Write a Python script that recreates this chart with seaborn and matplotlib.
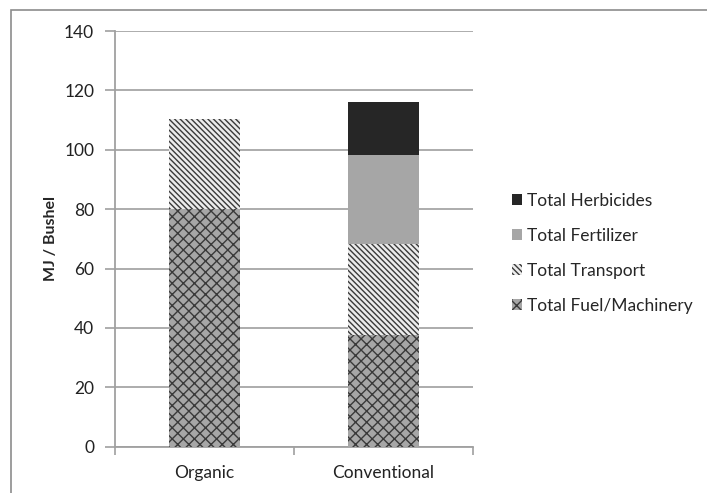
import matplotlib
matplotlib.use("Agg")
import matplotlib.pyplot as plt
import matplotlib.patches as mpatches
import seaborn as sns
import pandas as pd
import numpy as np

categories = ["Organic", "Conventional"]
fuel_machinery = [80.0, 37.5]
transport = [30.5, 30.7]
fertilizer = [0.0, 29.9]
herbicides = [0.0, 18.0]
y_ticks = [0, 20, 40, 60, 80, 100, 120, 140]

sns.set_theme(style="white")
plt.rcParams['font.family'] = ['Lato', 'DejaVu Sans']
plt.rcParams['hatch.linewidth'] = 1.0

df = pd.DataFrame({
    "category": categories,
    "Total Fuel/Machinery": fuel_machinery,
    "Total Transport": transport,
    "Total Fertilizer": fertilizer,
    "Total Herbicides": herbicides,
})

layers = [
    ("Total Fuel/Machinery", "#a6a6a6", "#3a3a3a", "xxx"),
    ("Total Transport", "#ececec", "#3a3a3a", "\\" * 6),
    ("Total Fertilizer", "#a6a6a6", "#a6a6a6", None),
    ("Total Herbicides", "#262626", "#262626", None),
]

fig = plt.figure(figsize=(7.07, 4.93), dpi=100)
ax = fig.add_axes([115/707, 0.0939, 357.7/707, 0.8432])

bottom = np.zeros(len(categories))
handles = []
for name, fc, ec, hatch in layers:
    before = len(ax.patches)
    sns.barplot(data=df, x="category", y=name, ax=ax, color=fc, width=0.4,
                bottom=bottom, saturation=1, zorder=3)
    for p in ax.patches[before:]:
        p.set_facecolor(fc)
        p.set_edgecolor(ec)
        p.set_linewidth(0)
        if hatch:
            p.set_hatch(hatch)
    bottom = bottom + np.array(df[name])
    handles.append(mpatches.Patch(facecolor=fc, edgecolor=ec, hatch=hatch,
                                  linewidth=0, label=name))

ax.set_ylim(0, 140)
ax.set_xlim(-0.5, 1.5)
ax.set_yticks(y_ticks)
ax.set_yticklabels([str(v) for v in y_ticks], fontsize=12.5, color="#222222")
ax.yaxis.grid(True, color="#a6a6a6", linewidth=1.3, zorder=0)
ax.set_axisbelow(True)
ax.set_xlabel("")
ax.set_ylabel("MJ / Bushel", fontsize=11.5, fontweight="bold", labelpad=4)

ax.set_xticks([0, 1])
ax.set_xticklabels(categories, fontsize=12.5, color="#222222")
ax.set_xticks([-0.5, 0.5, 1.5], minor=True)
ax.tick_params(axis="x", which="major", length=0, pad=13)
ax.tick_params(axis="x", which="minor", length=6, width=1.2, color="#a0a0a0", direction="out", bottom=True)
ax.tick_params(axis="y", which="major", length=7, width=1.2, color="#a0a0a0", direction="out", left=True, pad=8)

for s in ["top", "right"]:
    ax.spines[s].set_visible(False)
for s in ["left", "bottom"]:
    ax.spines[s].set_color("#a0a0a0")
    ax.spines[s].set_linewidth(1.3)

leg = ax.legend(handles=handles[::-1], loc="center left", bbox_to_anchor=(1.09, 0.465),
                frameon=False, fontsize=12.5, handlelength=0.6, handleheight=0.6,
                labelspacing=1.1, handletextpad=0.3, borderaxespad=0)

# outer chart frame
fig.patches.append(mpatches.Rectangle((11/707, -0.1), 1.2, 1 - 10/493 + 0.1,
                                      transform=fig.transFigure, fill=False,
                                      edgecolor="#8c8c8c", linewidth=1.2))

fig.savefig("out.png", dpi=100)
